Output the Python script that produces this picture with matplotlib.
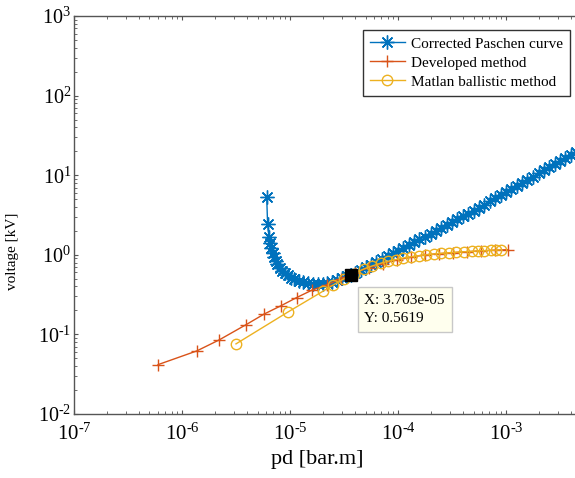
import numpy as np
import matplotlib
matplotlib.use("Agg")
import matplotlib.pyplot as plt
from matplotlib.ticker import LogLocator, NullFormatter, FuncFormatter

plt.rcParams['font.family'] = ['Liberation Serif', 'DejaVu Serif']
plt.rcParams['mathtext.fontset'] = 'custom'
plt.rcParams['mathtext.rm'] = 'Liberation Serif'
plt.rcParams['mathtext.it'] = 'Liberation Serif:italic'
plt.rcParams['axes.unicode_minus'] = False

# korrigierte Paschen-Kurve (pd in bar.m, Spannung in kV)
pd_paschen = [6.08e-6, 6.20e-6, 6.38e-6, 6.55e-6, 6.70e-6, 6.90e-6, 7.10e-6, 7.35e-6,
              7.65e-6, 8.00e-6, 8.40e-6, 8.90e-6, 9.50e-6, 1.02e-5, 1.10e-5, 1.20e-5,
              1.32e-5, 1.46e-5, 1.62e-5, 1.80e-5, 2.00e-5, 2.22e-5, 2.46e-5, 2.73e-5,
              3.03e-5, 3.35e-5, 3.703e-5, 4.0e-5, 4.5e-5, 5.0e-5, 5.6e-5, 6.3e-5,
              7.1e-5, 8.0e-5, 9.0e-5, 1.0e-4, 1.12e-4, 1.26e-4, 1.41e-4, 1.58e-4,
              1.78e-4, 2.0e-4, 2.24e-4, 2.51e-4, 2.82e-4, 3.16e-4, 3.55e-4, 3.98e-4,
              4.47e-4, 5.01e-4, 5.62e-4, 6.31e-4, 7.08e-4, 7.94e-4, 8.91e-4, 1.0e-3,
              1.12e-3, 1.26e-3, 1.41e-3, 1.58e-3, 1.78e-3, 2.0e-3, 2.24e-3, 2.51e-3,
              2.82e-3, 3.16e-3, 3.55e-3, 3.98e-3, 4.47e-3]
v_paschen = [5.40, 2.45, 1.67, 1.40, 1.22, 1.06, 0.94, 0.84,
             0.76, 0.69, 0.635, 0.59, 0.55, 0.515, 0.49, 0.47,
             0.452, 0.440, 0.433, 0.430, 0.431, 0.436, 0.457, 0.484,
             0.513, 0.537, 0.5619, 0.593, 0.644, 0.693, 0.751, 0.815,
             0.887, 0.964, 1.047, 1.127, 1.222, 1.324, 1.436, 1.560,
             1.698, 1.845, 2.00, 2.178, 2.366, 2.570, 2.793, 3.034,
             3.296, 3.581, 3.917, 4.285, 4.688, 5.129, 5.61, 6.138,
             6.70, 7.35, 8.02, 8.77, 9.62, 10.54, 11.51, 12.59,
             13.77, 15.07, 16.48, 18.03, 19.72]

# entwickelte Methode
pd_dev = [6.0e-7, 1.37e-6, 2.2e-6, 3.9e-6, 5.75e-6, 8.3e-6, 1.15e-5, 1.6e-5, 2.2e-5,
          2.95e-5, 3.98e-5, 5.37e-5, 7.24e-5, 9.77e-5, 1.32e-4, 1.78e-4, 2.4e-4,
          3.24e-4, 4.37e-4, 5.89e-4, 7.94e-4, 1.05e-3]
v_dev = [0.0417, 0.062, 0.085, 0.132, 0.18, 0.23, 0.29, 0.36, 0.42,
         0.50, 0.596, 0.69, 0.776, 0.861, 0.933, 1.0, 1.035,
         1.066, 1.096, 1.122, 1.143, 1.161]

# ballistische Methode
pd_bal = [3.16e-6, 9.5e-6, 2.0e-5, 2.51e-5, 3.16e-5, 3.89e-5, 4.79e-5, 5.75e-5,
          6.92e-5, 8.13e-5, 9.55e-5, 1.12e-4, 1.32e-4, 1.55e-4, 1.82e-4, 2.14e-4,
          2.51e-4, 2.95e-4, 3.47e-4, 4.07e-4, 4.79e-4, 5.5e-4, 6.31e-4, 7.24e-4,
          8.13e-4, 8.91e-4]
v_bal = [0.076, 0.19, 0.346, 0.417, 0.501, 0.582, 0.661, 0.724,
         0.785, 0.832, 0.871, 0.912, 0.944, 0.973, 1.0, 1.023,
         1.042, 1.059, 1.076, 1.091, 1.104, 1.117, 1.127, 1.138,
         1.146, 1.153]

tip_x = 3.703e-05
tip_y = 0.5619

fig = plt.figure(figsize=(5.75, 4.78), dpi=100)
ax = fig.add_axes([0.1287, 0.1339, 0.8713, 0.8326])

# Sternchen wie in MATLAB: + und x übereinander
asterisk = (8, 2, 0)

ax.plot(pd_paschen, v_paschen, color='#0072BD', lw=1, marker=asterisk, ms=10,
        mew=1, label='Corrected Paschen curve')
ax.plot(pd_dev, v_dev, color='#D95319', lw=1, marker='+', ms=9,
        mew=1, label='Developed method')
ax.plot(pd_bal, v_bal, color='#EDB120', lw=1, marker='o', ms=7.5,
        mfc='none', mew=1, label='Matlan ballistic method')

# Datenpunkt-Markierung
ax.plot([tip_x], [tip_y], marker='s', ms=8, color='black', zorder=5)
ax.annotate(f'X: {tip_x:.3e}'.replace('e-5', 'e-05') + f'\nY: {tip_y}',
            xy=(tip_x, tip_y), xytext=(13, -19), textcoords='offset pixels',
            ha='left', va='top', fontsize=11, linespacing=1.5,
            bbox=dict(boxstyle='square,pad=0.45', fc='#FFFFEE', ec='#C8C8C8', lw=1),
            zorder=6)

ax.set_xscale('log')
ax.set_yscale('log')
ax.set_xlim(1e-7, 4.35e-3)
ax.set_ylim(1e-2, 1e3)


def dekade(v, pos):
    # Exponent mit normalem Bindestrich
    return r'$10^{\text{%d}}$' % int(round(np.log10(v)))


for achse in (ax.xaxis, ax.yaxis):
    achse.set_major_locator(LogLocator(base=10, numticks=20))
    achse.set_minor_locator(LogLocator(base=10, subs=np.arange(2, 10), numticks=20))
    achse.set_major_formatter(FuncFormatter(dekade))
    achse.set_minor_formatter(NullFormatter())

ax.tick_params(which='both', direction='in', top=True, right=False,
               colors='#555555', labelcolor='black')
ax.tick_params(axis='x', labelsize=15, pad=7)
ax.tick_params(axis='y', labelsize=14.5, pad=2)
ax.tick_params(which='major', length=3, width=0.8)
ax.tick_params(which='minor', length=2, width=0.6)

for side in ['left', 'bottom', 'top']:
    ax.spines[side].set_color('#555555')
    ax.spines[side].set_linewidth(1)
ax.spines['right'].set_visible(False)

ax.set_xlabel('pd [bar.m]', fontsize=16)
ax.set_ylabel('voltage [kV]', fontsize=11)
ax.xaxis.set_label_coords(0.485, -0.09)
ax.yaxis.set_label_coords(-0.11, 0.41)

leg = ax.legend(loc='upper right', bbox_to_anchor=(570 / 575, 1 - 30 / 478),
                bbox_transform=fig.transFigure, borderaxespad=0,
                fontsize=11, fancybox=False, framealpha=1,
                edgecolor='#333333', handlelength=2.3,
                borderpad=0.45, labelspacing=0.35, handletextpad=0.4)
leg.get_frame().set_linewidth(1)

fig.savefig('out.png', dpi=100)
